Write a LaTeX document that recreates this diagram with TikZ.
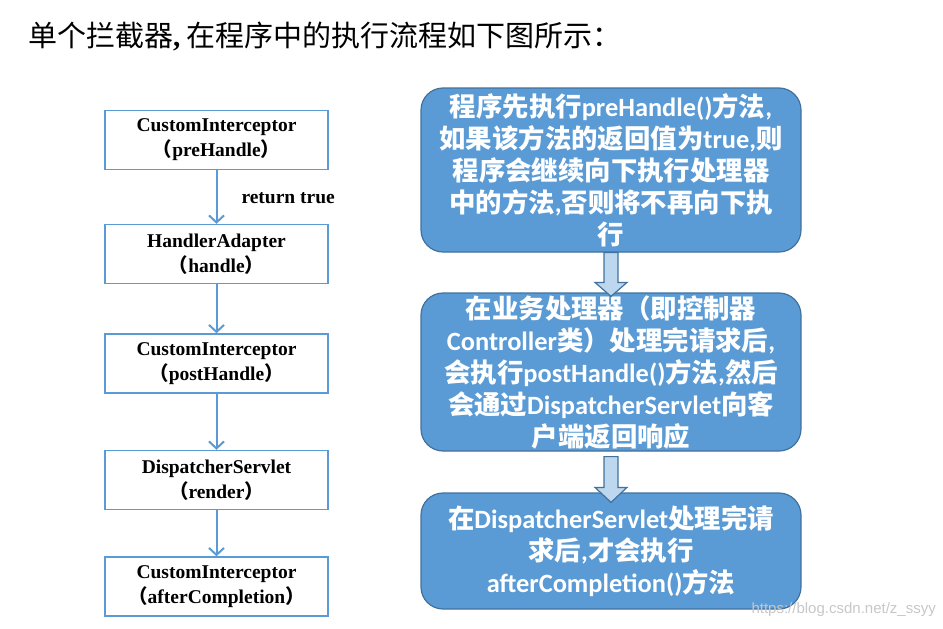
\documentclass[tikz,border=0pt]{standalone}
\usepackage{fontspec}
\setmainfont{Liberation Serif}
\newfontfamily\cjk{Noto Sans CJK SC}
\newfontfamily\calfont{Carlito}
\newfontfamily\wmfont{Liberation Sans}
\usetikzlibrary{arrows.meta,calc}
\newcommand\zhs[1]{{\cjk #1}}
\definecolor{boxblue}{RGB}{91,155,213}
\definecolor{edgeblue}{RGB}{65,113,156}
\definecolor{lightblue}{RGB}{189,215,238}
\tikzset{
  x=1pt,y=-1pt,
  lbox/.style={draw=boxblue, line width=1.4pt, fill=white, minimum width=223pt, minimum height=59pt,
    inner sep=0pt, align=center, font=\fontsize{19.5}{25}\selectfont\bfseries,
    execute at begin node={\rule{0pt}{19.5pt}}},
  rbox/.style={draw=edgeblue, line width=1.2pt, fill=boxblue, rounded corners=22pt, minimum width=380pt,
    inner sep=0pt, align=center, text=white, font=\fontsize{26.4}{32}\selectfont\calfont\bfseries},
  larrow/.style={draw=boxblue, line width=2pt, -{Straight Barb[length=7pt,width=15pt,line width=2pt]}},
  blockarrow/.style={draw=edgeblue, line width=1.2pt, fill=lightblue},
}
\begin{document}
\begin{tikzpicture}
\path[use as bounding box] (0,0) rectangle (943,629);
% title
\node[anchor=west, inner sep=0pt, font=\fontsize{29}{34}\selectfont] (title) at (28,36)
  {\zhs{单个拦截器}\textbf{,}\hspace{6pt}\zhs{在程序中的执行流程如下图所示：}};
% left column
\node[lbox] (l1) at (216.5,140) {CustomInterceptor\\\zhs{（}preHandle\zhs{）}};
\node[lbox] (l2) at (216.5,254) {HandlerAdapter\\\zhs{（}handle\zhs{）}};
\node[lbox] (l3) at (216.5,363.5) {CustomInterceptor\\\zhs{（}postHandle\zhs{）}};
\node[lbox] (l4) at (216.5,480) {DispatcherServlet\\\zhs{（}render\zhs{）}};
\node[lbox] (l5) at (216.5,586.5) {CustomInterceptor\\\zhs{（}afterCompletion\zhs{）}};
\draw[larrow] (l1) -- node[anchor=west, inner sep=0pt, xshift=24pt, yshift=-1pt, font=\fontsize{19.5}{22}\selectfont\bfseries] (rt) {return true} (l2);
\draw[larrow] (l2) -- (l3);
\draw[larrow] (l3) -- (l4);
\draw[larrow] (l4) -- (l5);
% right column
\node[rbox, minimum height=164pt] (r1) at (611,170) {\zhs{程序先执行}preHandle()\zhs{方法},\\\zhs{如果该方法的返回值为}true,\zhs{则}\\\zhs{程序会继续向下执行处理器}\\\zhs{中的方法},\zhs{否则将不再向下执}\\\zhs{行}};
\node[rbox, minimum height=158pt] (r2) at (611,372) {\zhs{在业务处理器（即控制器}\\Controller\zhs{类）处理完请求后},\\\zhs{会执行}postHandle()\zhs{方法},\zhs{然后}\\\zhs{会通过}DispatcherServlet\zhs{向客}\\\zhs{户端返回响应}};
\node[rbox, minimum height=116pt] (r3) at (611,551) {\zhs{在}DispatcherServlet\zhs{处理完请}\\\zhs{求后},\zhs{才会执行}\\afterCompletion()\zhs{方法}};
% block arrows
\draw[blockarrow] ($(r1.south)+(-7,0)$) -- ($(r1.south)+(7,0)$) -- ($(r2.north)+(7,-10)$) -- ($(r2.north)+(16,-10)$)
  -- ($(r2.north)+(0,4)$) -- ($(r2.north)+(-16,-10)$) -- ($(r2.north)+(-7,-10)$) -- cycle;
\draw[blockarrow] ($(r2.south)+(-7,5)$) -- ($(r2.south)+(7,5)$) -- ($(r3.north)+(7,-5)$) -- ($(r3.north)+(16,-5)$)
  -- ($(r3.north)+(0,10)$) -- ($(r3.north)+(-16,-5)$) -- ($(r3.north)+(-7,-5)$) -- cycle;
% watermark
\node[anchor=east, inner sep=0pt, text=black!22, font=\fontsize{15}{18}\selectfont\wmfont] (wm) at (936,610) {https://blog.csdn.net/z\_ssyy};
\end{tikzpicture}
\end{document}
